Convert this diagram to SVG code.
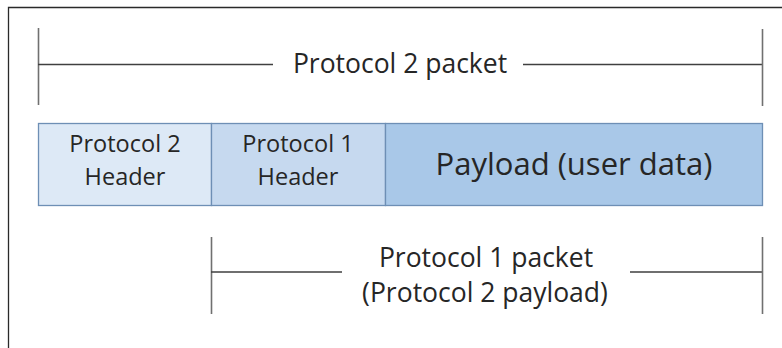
<svg xmlns="http://www.w3.org/2000/svg" width="782" height="348" viewBox="0 0 782 348">
<style>
.t{font-family:"Open Sans","Liberation Sans",sans-serif;fill:#262626;text-anchor:middle}
.box{stroke:#6e8fb5;stroke-width:1.3}
.ln{stroke:#404040;stroke-width:1.6;fill:none}
.tick{stroke:#707070;stroke-width:1.6;fill:none}
</style>
<rect width="782" height="348" fill="#fff"/>
<path d="M8.5 348V7.5H782" stroke="#2a2a2a" stroke-width="1.3" fill="none"/>
<g id="connectors">
<path class="tick" d="M38.5 28V105"/>
<path class="ln" d="M38 64.5H273M523 64.5H762"/>
<path class="tick" d="M762.5 29V106"/>
<path class="tick" d="M211.5 237V314"/>
<path class="ln" d="M211 272H342M630 272H762"/>
<path class="tick" d="M762.5 237V314"/>
</g>
<g id="label-p2">
<text class="t" x="400" y="73" font-size="26.5">Protocol 2 packet</text>
</g>
<g id="label-p1">
<text class="t" x="486" y="267" font-size="26.5">Protocol 1 packet</text>
<text class="t" x="485" y="302" font-size="26.5">(Protocol 2 payload)</text>
</g>
<g id="p2header">
<rect class="box" x="38.5" y="123.5" width="173" height="82" fill="#dde9f6"/>
<text class="t" x="125" y="152" font-size="23.5">Protocol 2</text>
<text class="t" x="125" y="185" font-size="23.5">Header</text>
</g>
<g id="p1header">
<rect class="box" x="211.5" y="123.5" width="174" height="82" fill="#c6d9ef"/>
<text class="t" x="298" y="152" font-size="23.5">Protocol 1</text>
<text class="t" x="298" y="185" font-size="23.5">Header</text>
</g>
<g id="payload">
<rect class="box" x="385.5" y="123.5" width="377" height="82" fill="#a9c8e8"/>
<text class="t" x="574" y="175" font-size="31">Payload (user data)</text>
</g>
</svg>
